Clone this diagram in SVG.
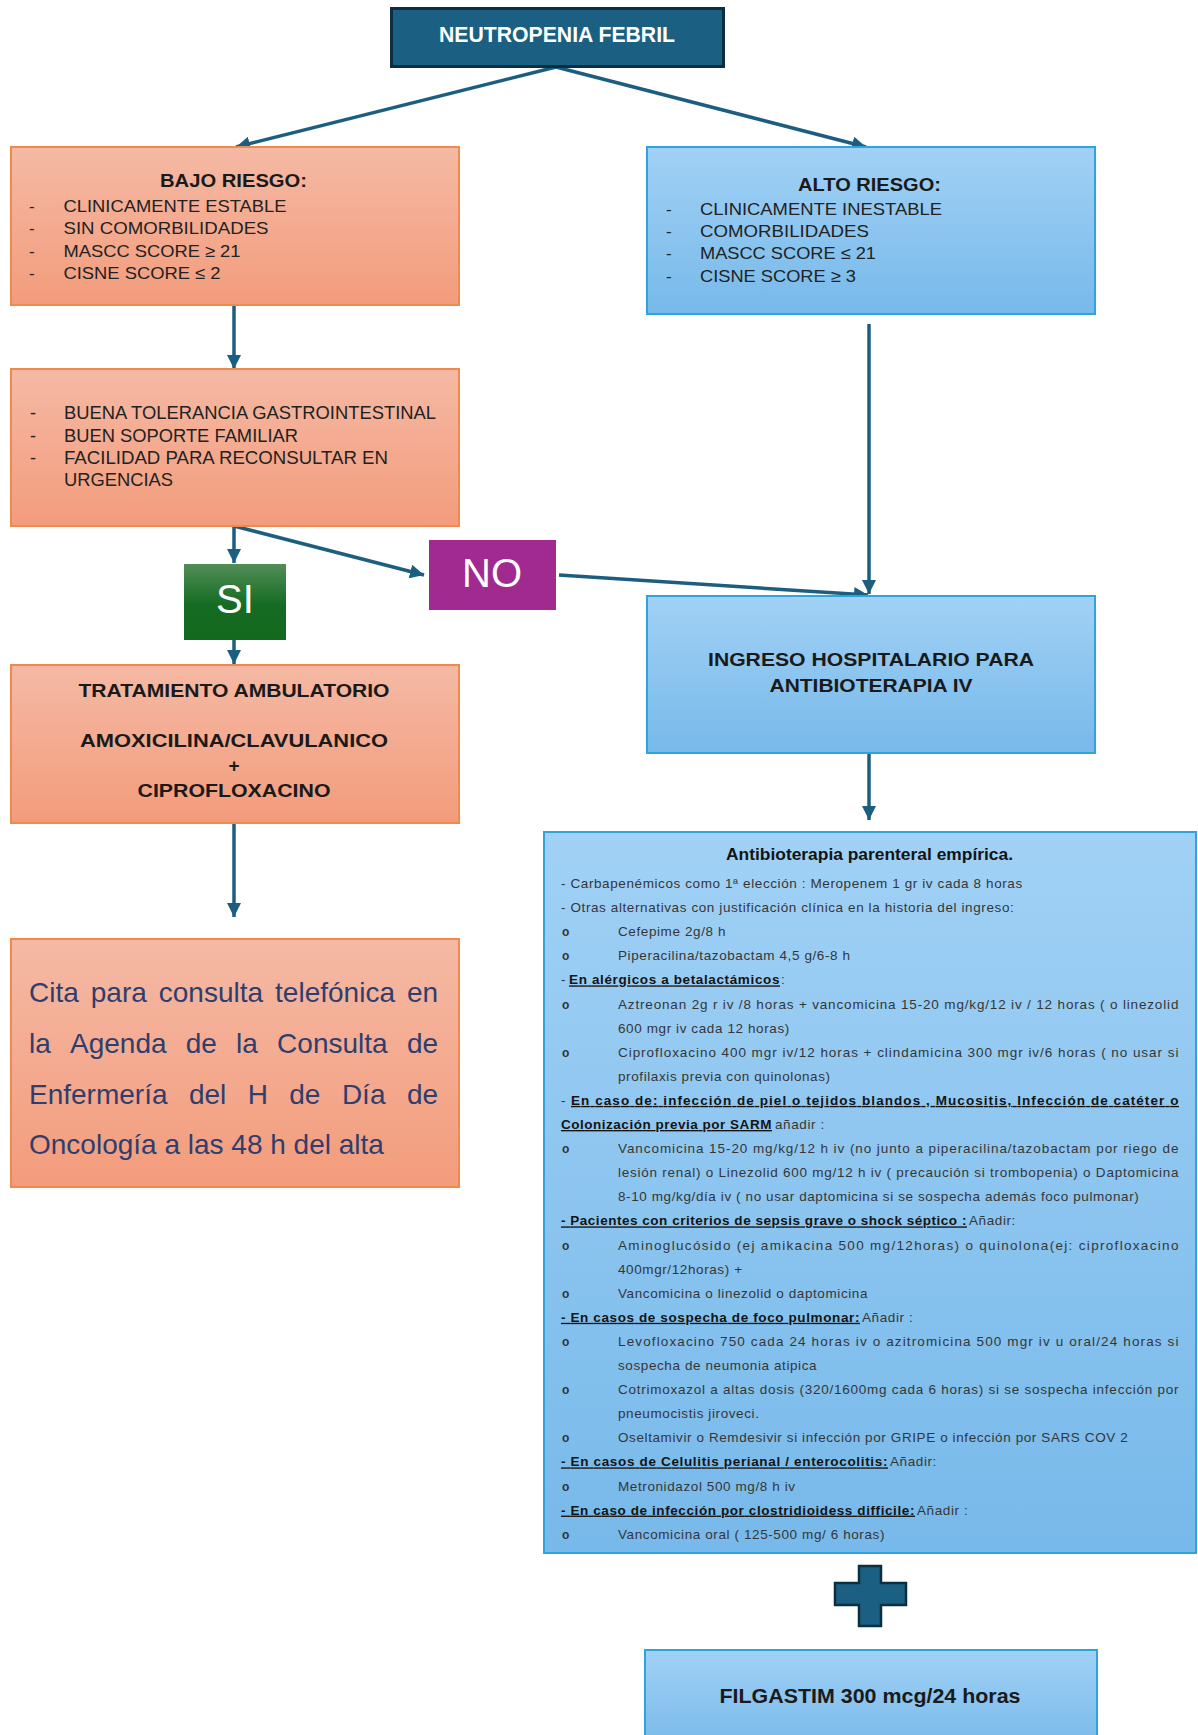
<svg xmlns="http://www.w3.org/2000/svg" width="1198" height="1735" viewBox="0 0 1198 1735">
<defs>
<linearGradient id="gOr" x1="0" y1="0" x2="0" y2="1"><stop offset="0" stop-color="#f5b9a4"/><stop offset="1" stop-color="#f39c7c"/></linearGradient>
<linearGradient id="gBl" x1="0" y1="0" x2="0" y2="1"><stop offset="0" stop-color="#a1d1f5"/><stop offset="1" stop-color="#77b9ea"/></linearGradient>
<linearGradient id="gSi" x1="0" y1="0" x2="0" y2="1"><stop offset="0" stop-color="#528d57"/><stop offset="0.55" stop-color="#146b21"/><stop offset="1" stop-color="#136a1f"/></linearGradient>
<marker id="ah" markerUnits="userSpaceOnUse" markerWidth="16" markerHeight="14" refX="14" refY="7" orient="auto"><path d="M0,0 L14,7 L0,14 Z" fill="#1b5e80"/></marker>
<style>
text{font-family:"Liberation Sans",Arial,Helvetica,sans-serif}
.or{fill:url(#gOr);stroke:#ef8a4f;stroke-width:2}
.bl{fill:url(#gBl);stroke:#2ea3dc;stroke-width:2}
.ttl{font-size:19px;font-weight:700;fill:#1a1a1a}
.lbl{font-size:17px;fill:#222}
.lbl2{font-size:18px;fill:#222}
.yn{font-size:40px;fill:#fff}
.cita{font-size:28px;fill:#2f3e6c}
.body{font-size:13.5px;letter-spacing:0.6px;fill:#363636}
.hd{font-weight:700;fill:#141414;text-decoration:underline}
.bul{font-size:12px;font-weight:700;fill:#333}
.conn line{stroke:#1b5e80;stroke-width:3.5;marker-end:url(#ah)}
</style>
</defs>
<rect width="1198" height="1735" fill="#ffffff"/>

<g id="connectors" class="conn">
<line x1="556" y1="67" x2="236" y2="147"/>
<line x1="556" y1="67" x2="866" y2="147"/>
<line x1="234" y1="305" x2="234" y2="369"/>
<line x1="234" y1="526" x2="234" y2="563"/>
<line x1="234" y1="526" x2="424" y2="575"/>
<line x1="234" y1="640" x2="234" y2="664"/>
<line x1="869" y1="324" x2="869" y2="594"/>
<line x1="559" y1="575" x2="868" y2="595"/>
<line x1="869" y1="753" x2="869" y2="820"/>
<line x1="234" y1="823" x2="234" y2="917"/>
</g>

<g id="neutropenia">
<rect x="391.5" y="8.5" width="332" height="58" fill="#1b6083" stroke="#0b2f40" stroke-width="3"/>
<text x="557" y="42" text-anchor="middle" font-size="22" font-weight="700" fill="#ffffff" textLength="236" lengthAdjust="spacingAndGlyphs">NEUTROPENIA FEBRIL</text>
</g>

<g id="bajo-riesgo">
<rect class="or" x="11" y="147" width="448" height="158"/>
<text class="ttl" x="233.5" y="187" text-anchor="middle" textLength="147" lengthAdjust="spacingAndGlyphs">BAJO RIESGO:</text>
<text class="lbl" x="29" y="212">-</text><text class="lbl" x="63.5" y="212" textLength="223" lengthAdjust="spacingAndGlyphs">CLINICAMENTE ESTABLE</text>
<text class="lbl" x="29" y="234">-</text><text class="lbl" x="63.5" y="234" textLength="205" lengthAdjust="spacingAndGlyphs">SIN COMORBILIDADES</text>
<text class="lbl" x="29" y="256.5">-</text><text class="lbl" x="63.5" y="256.5" textLength="177" lengthAdjust="spacingAndGlyphs">MASCC SCORE ≥ 21</text>
<text class="lbl" x="29" y="279">-</text><text class="lbl" x="63.5" y="279" textLength="157" lengthAdjust="spacingAndGlyphs">CISNE SCORE ≤ 2</text>
</g>

<g id="alto-riesgo">
<rect class="bl" x="647" y="147" width="448" height="167"/>
<text class="ttl" x="869.5" y="191" text-anchor="middle" textLength="143" lengthAdjust="spacingAndGlyphs">ALTO RIESGO:</text>
<text class="lbl" x="666" y="215">-</text><text class="lbl" x="700" y="215" textLength="242" lengthAdjust="spacingAndGlyphs">CLINICAMENTE INESTABLE</text>
<text class="lbl" x="666" y="237">-</text><text class="lbl" x="700" y="237" textLength="169" lengthAdjust="spacingAndGlyphs">COMORBILIDADES</text>
<text class="lbl" x="666" y="259">-</text><text class="lbl" x="700" y="259" textLength="176" lengthAdjust="spacingAndGlyphs">MASCC SCORE ≤ 21</text>
<text class="lbl" x="666" y="282">-</text><text class="lbl" x="700" y="282" textLength="156" lengthAdjust="spacingAndGlyphs">CISNE SCORE ≥ 3</text>
</g>

<g id="criterios">
<rect class="or" x="11" y="369" width="448" height="157"/>
<text class="lbl2" x="30" y="419">-</text><text class="lbl2" x="64" y="419" textLength="372" lengthAdjust="spacingAndGlyphs">BUENA TOLERANCIA GASTROINTESTINAL</text>
<text class="lbl2" x="30" y="442">-</text><text class="lbl2" x="64" y="442" textLength="234" lengthAdjust="spacingAndGlyphs">BUEN SOPORTE FAMILIAR</text>
<text class="lbl2" x="30" y="464">-</text><text class="lbl2" x="64" y="464" textLength="324" lengthAdjust="spacingAndGlyphs">FACILIDAD PARA RECONSULTAR EN</text>
<text class="lbl2" x="64" y="486" textLength="109" lengthAdjust="spacingAndGlyphs">URGENCIAS</text>
</g>

<g id="si">
<rect x="184" y="564" width="102" height="76" fill="url(#gSi)"/>
<text class="yn" x="235" y="613" text-anchor="middle">SI</text>
</g>

<g id="no">
<rect x="429" y="540" width="127" height="70" fill="#a02a8f"/>
<text class="yn" x="492" y="587" text-anchor="middle">NO</text>
</g>

<g id="tratamiento">
<rect class="or" x="11" y="665" width="448" height="158"/>
<text class="ttl" x="234" y="697" text-anchor="middle" textLength="311" lengthAdjust="spacingAndGlyphs">TRATAMIENTO AMBULATORIO</text>
<text class="ttl" x="234" y="747" text-anchor="middle" textLength="308" lengthAdjust="spacingAndGlyphs">AMOXICILINA/CLAVULANICO</text>
<text class="ttl" x="234" y="772" text-anchor="middle" font-size="17">+</text>
<text class="ttl" x="234" y="797" text-anchor="middle" textLength="193" lengthAdjust="spacingAndGlyphs">CIPROFLOXACINO</text>
</g>

<g id="ingreso">
<rect class="bl" x="647" y="596" width="448" height="157"/>
<text class="ttl" x="871" y="666" text-anchor="middle" textLength="326" lengthAdjust="spacingAndGlyphs">INGRESO HOSPITALARIO PARA</text>
<text class="ttl" x="871" y="692" text-anchor="middle" textLength="203" lengthAdjust="spacingAndGlyphs">ANTIBIOTERAPIA IV</text>
</g>

<g id="cita">
<rect class="or" x="11" y="939" width="448" height="248"/>
<text class="cita" y="1002"><tspan x="29">Cita</tspan><tspan x="90.8">para</tspan><tspan x="158.8">consulta</tspan><tspan x="275.1">telefónica</tspan><tspan x="406.9">en</tspan></text>
<text class="cita" y="1053"><tspan x="29">la</tspan><tspan x="70">Agenda</tspan><tspan x="185.8">de</tspan><tspan x="236.1">la</tspan><tspan x="277.1">Consulta</tspan><tspan x="406.9">de</tspan></text>
<text class="cita" y="1104"><tspan x="29">Enfermería</tspan><tspan x="188.9">del</tspan><tspan x="247.7">H</tspan><tspan x="289.3">de</tspan><tspan x="341.9">Día</tspan><tspan x="406.9">de</tspan></text>
<text class="cita" x="29" y="1154">Oncología a las 48 h del alta</text>
</g>

<g id="antibioterapia">
<rect class="bl" x="544" y="832" width="652" height="721" fill="url(#gBl)"/>
<text x="869.5" y="860" text-anchor="middle" font-size="16" font-weight="700" fill="#141414" textLength="287" lengthAdjust="spacingAndGlyphs">Antibioterapia parenteral empírica.</text>
<text class="body" x="561" y="888">- Carbapenémicos como 1ª elección : Meropenem 1 gr iv cada 8 horas</text>
<text class="body" x="561" y="912.1">- Otras alternativas con justificación clínica en la historia del ingreso:</text>
<text class="bul" x="562" y="936.2">o</text><text class="body" x="618" y="936.2">Cefepime 2g/8 h</text>
<text class="bul" x="562" y="960.3">o</text><text class="body" x="618" y="960.3">Piperacilina/tazobactam 4,5 g/6-8 h</text>
<text class="body" x="561" y="984.4">-</text><text class="body hd" x="569" y="984.4" textLength="211">En alérgicos a betalactámicos</text><text class="body" x="781" y="984.4">:</text>
<text class="bul" x="562" y="1008.5">o</text><text class="body" x="618" y="1008.5" textLength="561" lengthAdjust="spacing">Aztreonan 2g r iv /8 horas + vancomicina 15-20 mg/kg/12 iv / 12 horas ( o linezolid</text>
<text class="body" x="618" y="1032.6">600 mgr iv cada 12 horas)</text>
<text class="bul" x="562" y="1056.7">o</text><text class="body" x="618" y="1056.7" textLength="561" lengthAdjust="spacing">Ciprofloxacino 400 mgr iv/12 horas + clindamicina 300 mgr iv/6 horas ( no usar si</text>
<text class="body" x="618" y="1080.8">profilaxis previa con quinolonas)</text>
<text class="body" x="561" y="1104.9">-</text><text class="body hd" x="571" y="1104.9" textLength="608" lengthAdjust="spacing">En caso de: infección de piel o tejidos blandos ,  Mucositis, Infección de catéter o</text>
<text class="body hd" x="561" y="1129" textLength="211">Colonización previa por SARM</text><text class="body" x="775" y="1129">añadir :</text>
<text class="bul" x="562" y="1153.1">o</text><text class="body" x="618" y="1153.1" textLength="561" lengthAdjust="spacing">Vancomicina 15-20 mg/kg/12 h iv (no junto a piperacilina/tazobactam por riego de</text>
<text class="body" x="618" y="1177.2" textLength="561" lengthAdjust="spacing">lesión renal) o Linezolid 600 mg/12 h iv ( precaución si trombopenia) o Daptomicina</text>
<text class="body" x="618" y="1201.3">8-10 mg/kg/día iv ( no usar daptomicina si se sospecha además foco pulmonar)</text>
<text class="body hd" x="561" y="1225.4" textLength="406">- Pacientes con criterios de sepsis grave o shock séptico :</text><text class="body" x="969" y="1225.4">Añadir:</text>
<text class="bul" x="562" y="1249.5">o</text><text class="body" x="618" y="1249.5" textLength="561" lengthAdjust="spacing">Aminoglucósido (ej amikacina 500 mg/12horas) o quinolona(ej: ciprofloxacino</text>
<text class="body" x="618" y="1273.6">400mgr/12horas) +</text>
<text class="bul" x="562" y="1297.7">o</text><text class="body" x="618" y="1297.7">Vancomicina o linezolid o daptomicina</text>
<text class="body hd" x="561" y="1321.8" textLength="299">- En casos de sospecha de foco pulmonar:</text><text class="body" x="862" y="1321.8">Añadir :</text>
<text class="bul" x="562" y="1345.9">o</text><text class="body" x="618" y="1345.9" textLength="561" lengthAdjust="spacing">Levofloxacino 750 cada 24 horas iv o azitromicina 500 mgr iv u oral/24 horas si</text>
<text class="body" x="618" y="1370">sospecha de neumonia atipica</text>
<text class="bul" x="562" y="1394.1">o</text><text class="body" x="618" y="1394.1" textLength="561" lengthAdjust="spacing">Cotrimoxazol a altas dosis (320/1600mg cada 6 horas) si se sospecha infección por</text>
<text class="body" x="618" y="1418.2">pneumocistis jiroveci.</text>
<text class="bul" x="562" y="1442.3">o</text><text class="body" x="618" y="1442.3">Oseltamivir o Remdesivir si infección por GRIPE o infección por SARS COV 2</text>
<text class="body hd" x="561" y="1466.4" textLength="327">- En casos de Celulitis perianal / enterocolitis:</text><text class="body" x="890" y="1466.4">Añadir:</text>
<text class="bul" x="562" y="1490.5">o</text><text class="body" x="618" y="1490.5">Metronidazol 500 mg/8 h iv</text>
<text class="body hd" x="561" y="1514.6" textLength="354">- En caso de infección por clostridioidess difficile:</text><text class="body" x="917" y="1514.6">Añadir :</text>
<text class="bul" x="562" y="1538.7">o</text><text class="body" x="618" y="1538.7">Vancomicina oral ( 125-500 mg/ 6 horas)</text>
</g>

<g id="plus">
<path d="M859,1566 H881 V1583 H906 V1605 H881 V1626 H859 V1605 H835 V1583 H859 Z" fill="#1b6083" stroke="#0b2f40" stroke-width="2.5"/>
</g>

<g id="filgastim">
<rect class="bl" x="645" y="1650" width="452" height="100"/>
<text x="870" y="1703" text-anchor="middle" font-size="20" font-weight="700" fill="#1a1a1a" textLength="301" lengthAdjust="spacingAndGlyphs">FILGASTIM 300 mcg/24 horas</text>
</g>
</svg>
